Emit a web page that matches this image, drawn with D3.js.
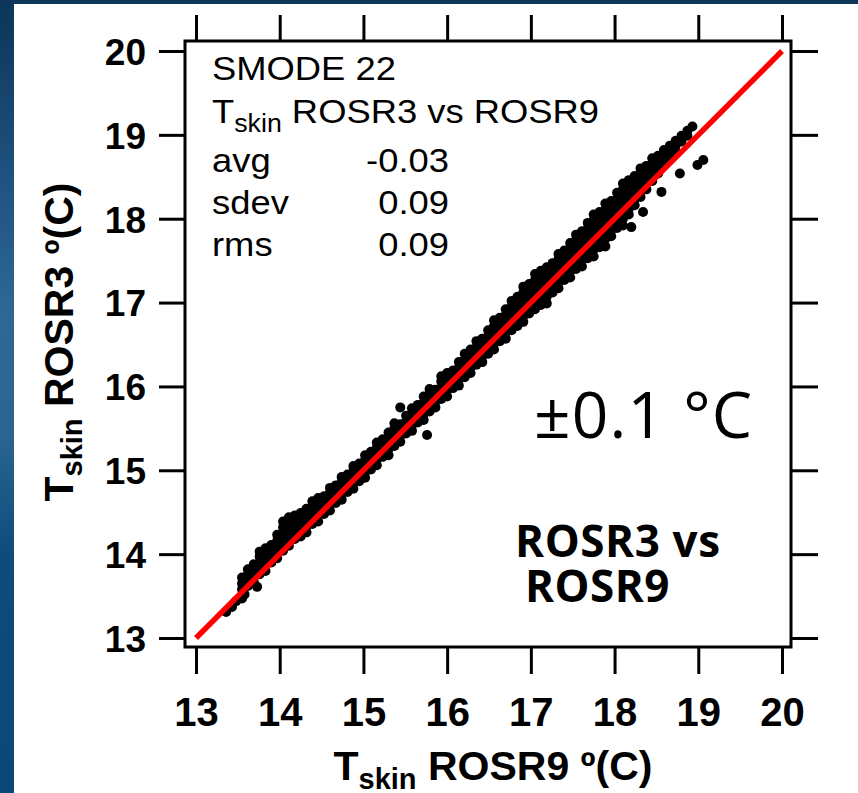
<!DOCTYPE html>
<html><head><meta charset="utf-8">
<script src="https://cdn.jsdelivr.net/npm/d3@7"></script>
<style>body{margin:0;background:#fff}svg{display:block}</style>
</head><body><svg id="c" width="858" height="793"></svg>
<script>
// ---------- data ----------
const xTicks = [13, 14, 15, 16, 17, 18, 19, 20];
const yTicks = [13, 14, 15, 16, 17, 18, 19, 20];
const statsTitle = "SMODE 22";
const statsLabels = ["avg", "sdev", "rms"];
const statsValues = ["-0.03", "0.09", "0.09"];
const oneToOne = [13, 20];

// sparse low-end points
const lowRosr9 = [13.36, 13.43, 13.48, 13.55, 13.58, 13.73];
const lowRosr3 = [13.31, 13.37, 13.44, 13.47, 13.52, 13.61];
// isolated outliers
const outRosr9 = [15.76, 18.20, 18.34, 18.56, 18.78, 18.99, 19.06];
const outRosr3 = [15.42, 17.90, 18.08, 18.32, 18.54, 18.64, 18.70];
// dense band: ROSR9 value and the ROSR3 readings at it
const bandRosr9 = [13.55,13.62,13.69,13.76,13.83,13.90,13.97,14.04,14.11,14.18,
  14.25,14.32,14.39,14.46,14.53,14.60,14.67,14.74,14.81,14.88,
  14.95,15.02,15.09,15.16,15.23,15.30,15.37,15.44,15.51,15.58,
  15.65,15.72,15.79,15.86,15.93,16.00,16.07,16.14,16.21,16.28,
  16.35,16.42,16.49,16.56,16.63,16.70,16.77,16.84,16.91,16.98,
  17.05,17.12,17.19,17.26,17.33,17.40,17.47,17.54,17.61,17.68,
  17.75,17.82,17.89,17.96,18.03,18.10,18.17,18.24,18.31,18.38,
  18.45,18.52,18.59,18.66,18.73,18.80,18.87,18.93];
const bandRosr3 = [
  [13.58,13.65,13.72],
  [13.62,13.69,13.76,13.82],
  [13.67,13.74,13.81,13.88],
  [13.76,13.83,13.90,13.97,14.03],
  [13.80,13.87,13.94,14.01,14.07],
  [13.90,13.97,14.04,14.11],
  [13.95,14.02,14.09,14.16,14.23],
  [14.04,14.11,14.18,14.25,14.32,14.39],
  [14.10,14.17,14.24,14.31,14.38,14.44],
  [14.18,14.25,14.32,14.39,14.46],
  [14.21,14.28,14.35,14.42,14.49],
  [14.26,14.33,14.40,14.47,14.54],
  [14.36,14.43,14.50,14.57,14.63],
  [14.39,14.46,14.53,14.60,14.67],
  [14.48,14.55,14.62,14.69],
  [14.52,14.59,14.66,14.73,14.79],
  [14.61,14.68,14.75,14.82],
  [14.65,14.72,14.79,14.86,14.92],
  [14.74,14.81,14.88,14.95],
  [14.78,14.85,14.92,14.99,15.05],
  [14.87,14.94,15.01,15.08],
  [14.91,14.98,15.05,15.12,15.18],
  [15.01,15.08,15.15,15.22],
  [15.06,15.13,15.20,15.27,15.33],
  [15.16,15.23,15.30,15.37],
  [15.18,15.25,15.32,15.39,15.45],
  [15.29,15.36,15.43,15.50,15.56],
  [15.34,15.41,15.48,15.55,15.75],
  [15.44,15.51,15.58,15.65],
  [15.47,15.54,15.61,15.68,15.74],
  [15.57,15.64,15.71,15.78],
  [15.60,15.67,15.74,15.81,15.88],
  [15.70,15.77,15.84,15.91,15.97],
  [15.75,15.82,15.89,15.96],
  [15.85,15.92,15.99,16.06,16.12],
  [15.88,15.95,16.02,16.09,16.16],
  [15.98,16.05,16.12,16.19],
  [16.01,16.08,16.15,16.22,16.29],
  [16.11,16.18,16.25,16.32,16.39],
  [16.16,16.23,16.30,16.37,16.44],
  [16.26,16.33,16.40,16.47,16.54],
  [16.29,16.36,16.43,16.50,16.57],
  [16.39,16.46,16.53,16.60,16.67],
  [16.44,16.51,16.58,16.65,16.72,16.79],
  [16.54,16.61,16.68,16.75,16.82],
  [16.57,16.64,16.71,16.78,16.85,16.92],
  [16.67,16.74,16.81,16.88,16.95,17.02],
  [16.72,16.79,16.86,16.93,17.00,17.07],
  [16.77,16.84,16.91,16.98,17.05,17.12,17.19],
  [16.87,16.94,17.01,17.08,17.15,17.22],
  [16.92,16.99,17.06,17.13,17.20,17.27,17.34],
  [16.97,17.04,17.11,17.18,17.25,17.32,17.38],
  [16.99,17.07,17.14,17.21,17.28,17.35,17.42],
  [17.12,17.19,17.26,17.33,17.40,17.47],
  [17.17,17.24,17.31,17.38,17.45,17.52,17.58],
  [17.27,17.34,17.41,17.48,17.55,17.62],
  [17.30,17.37,17.44,17.51,17.58,17.65,17.71],
  [17.40,17.47,17.54,17.61,17.68,17.75,17.81],
  [17.43,17.50,17.57,17.64,17.71,17.78,17.85],
  [17.53,17.60,17.67,17.74,17.81,17.88,17.95],
  [17.55,17.63,17.70,17.77,17.84,17.91,17.98,18.05],
  [17.66,17.73,17.80,17.87,17.94,18.01,18.08],
  [17.67,17.76,17.83,17.90,17.97,18.04,18.11,18.18],
  [17.79,17.86,17.93,18.00,18.07,18.14,18.21],
  [17.89,17.96,18.03,18.10,18.17,18.24,18.31],
  [17.92,18.00,18.07,18.14,18.21,18.28,18.35,18.42],
  [18.05,18.12,18.19,18.26,18.33,18.40,18.46],
  [18.16,18.23,18.30,18.37,18.44,18.51],
  [18.26,18.33,18.40,18.47,18.54,18.60],
  [18.35,18.42,18.49,18.56,18.63],
  [18.45,18.52,18.59,18.66,18.72],
  [18.54,18.61,18.68,18.75],
  [18.64,18.71,18.78,18.82],
  [18.73,18.80,18.87],
  [18.80,18.87,18.93],
  [18.92,18.99],
  [18.99,19.05],
  [19.10]
];

// ---------- build point list ----------
const points = [];
lowRosr9.forEach((v, i) => points.push([v, lowRosr3[i]]));
bandRosr9.forEach((v, i) => (bandRosr3[i] || []).forEach(w => points.push([v, w])));
outRosr9.forEach((v, i) => points.push([v, outRosr3[i]]));

// ---------- drawing ----------
const svg = d3.select("#c");
const W = 858, H = 793;
const FONT = "'Liberation Sans', Arial, Helvetica, sans-serif";
const FONT2 = "'Open Sans', 'Noto Sans', sans-serif";

const defs = svg.append("defs");
const grad = defs.append("linearGradient").attr("id", "bg").attr("x1", 0).attr("y1", 0).attr("x2", 0).attr("y2", 1);
[[0, "#0c3559"], [0.2, "#1d4f7c"], [0.4, "#2f6896"], [0.55, "#2a6592"], [0.7, "#0f4b7b"], [1, "#0a4877"]]
  .forEach(([o, c]) => grad.append("stop").attr("offset", o).attr("stop-color", c));
svg.append("rect").attr("width", W).attr("height", H).attr("fill", "url(#bg)");
svg.append("rect").attr("x", 14).attr("y", 4).attr("width", W - 14).attr("height", H - 4).attr("fill", "#fff");

const x = d3.scaleLinear().domain([13, 20]).range([196, 782]);
const y = d3.scaleLinear().domain([13, 20]).range([638, 51]);
const L = 185, R = 791, T = 41, B = 647;

function styleAxis(g, fs) {
  g.select(".domain").remove();
  g.selectAll(".tick line").attr("stroke", "#000").attr("stroke-width", 3);
  g.selectAll(".tick text").attr("fill", "#000").attr("font-family", FONT)
    .attr("font-weight", "bold").attr("font-size", fs);
}

svg.append("g").attr("transform", `translate(${L},0)`)
  .call(d3.axisLeft(y).tickValues(yTicks).tickSize(26).tickSizeOuter(0).tickPadding(13).tickFormat(d3.format("d")))
  .call(g => styleAxis(g, 37))
  .call(g => g.selectAll(".tick text").attr("dy", "0.36em"));
svg.append("g").attr("transform", `translate(${R},0)`)
  .call(d3.axisRight(y).tickValues(yTicks).tickSize(27).tickSizeOuter(0).tickFormat(""))
  .call(g => styleAxis(g, 37));
svg.append("g").attr("transform", `translate(0,${T})`)
  .call(d3.axisTop(x).tickValues(xTicks).tickSize(26).tickSizeOuter(0).tickFormat(""))
  .call(g => styleAxis(g, 37));
svg.append("g").attr("transform", `translate(0,${B})`)
  .call(d3.axisBottom(x).tickValues(xTicks).tickSize(27).tickSizeOuter(0).tickPadding(24).tickFormat(d3.format("d")))
  .call(g => styleAxis(g, 40));

// points
svg.append("g").selectAll("circle").data(points).join("circle")
  .attr("cx", d => x(d[0])).attr("cy", d => y(d[1])).attr("r", 5).attr("fill", "#000");

// 1:1 line
svg.append("line")
  .attr("x1", x(oneToOne[0])).attr("y1", y(oneToOne[0]))
  .attr("x2", x(oneToOne[1])).attr("y2", y(oneToOne[1]))
  .attr("stroke", "#ff0000").attr("stroke-width", 5.5);

// frame
svg.append("rect").attr("x", L).attr("y", T).attr("width", R - L).attr("height", B - T)
  .attr("fill", "none").attr("stroke", "#000").attr("stroke-width", 3);

// stats block (slightly wide lettering as in the reference)
const sx = 1.07, ox = 212;
const st = svg.append("g").attr("transform", `translate(${ox},0) scale(${sx},1) translate(${-ox},0)`)
  .attr("font-family", FONT).attr("font-size", 34).attr("fill", "#000");
st.append("text").attr("x", ox).attr("y", 80).text(statsTitle);
const t2 = st.append("text").attr("x", ox).attr("y", 123);
t2.append("tspan").text("T");
t2.append("tspan").attr("font-size", 25).attr("dy", 9).text("skin");
t2.append("tspan").attr("dy", -9).text(" ROSR3 vs ROSR9");
const rowsY = [172, 214, 256];
statsLabels.forEach((s, i) => {
  st.append("text").attr("x", ox).attr("y", rowsY[i]).text(s);
  st.append("text").attr("x", ox + (449 - ox) / sx).attr("y", rowsY[i]).attr("text-anchor", "end").text(statsValues[i]);
});

// annotations
svg.append("text").attr("x", 534).attr("y", 438).attr("font-family", FONT2).attr("font-size", 64)
  .attr("letter-spacing", 1.2).attr("fill", "#000").text("±0.1 °C");
svg.append("text").attr("x", 515).attr("y", 557).attr("font-family", FONT2).attr("font-weight", "bold")
  .attr("font-size", 44).attr("letter-spacing", 0.6).attr("fill", "#000").text("ROSR3 vs");
svg.append("text").attr("x", 525).attr("y", 602).attr("font-family", FONT2).attr("font-weight", "bold")
  .attr("font-size", 44).attr("letter-spacing", 0.5).attr("fill", "#000").text("ROSR9");

// axis titles
const xt = svg.append("text").attr("x", 493).attr("y", 780).attr("text-anchor", "middle")
  .attr("font-family", FONT).attr("font-weight", "bold").attr("font-size", 41).attr("fill", "#000");
xt.append("tspan").text("T");
xt.append("tspan").attr("font-size", 29).attr("dy", 9).text("skin");
xt.append("tspan").attr("dy", -9).text(" ROSR9 º(C)");

const yt = svg.append("text").attr("transform", "translate(73,342) rotate(-90)").attr("text-anchor", "middle")
  .attr("font-family", FONT).attr("font-weight", "bold").attr("font-size", 41).attr("fill", "#000");
yt.append("tspan").text("T");
yt.append("tspan").attr("font-size", 29).attr("dy", 9).text("skin");
yt.append("tspan").attr("dy", -9).text(" ROSR3 º(C)");
</script></body></html>
